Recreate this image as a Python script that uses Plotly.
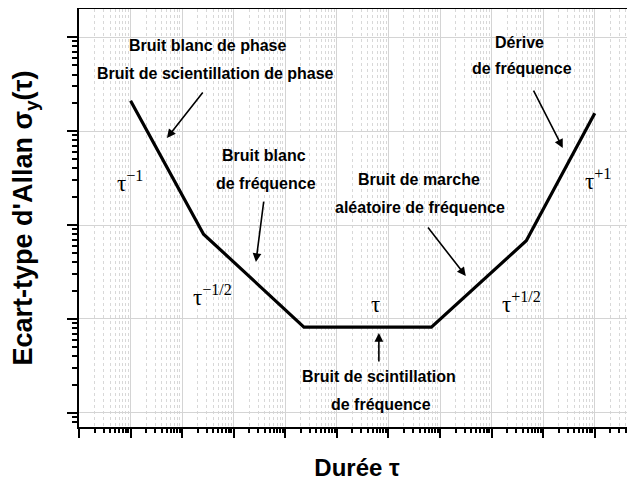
import plotly.graph_objects as go

# Data (log-log Allan deviation sketch)
tau = [1e1, 2.6e2, 2.3e4, 6.8e6, 4.7e8, 1.0e10]
sigma = [2.1e-12, 8.0e-14, 8.2e-15, 8.2e-15, 6.8e-14, 1.55e-12]

# Text labels (text, log10 x, log10 y)
label_text = ["Bruit blanc de phase", "Bruit de scientillation de phase",
              "Bruit blanc", "de fréquence",
              "Bruit de marche", "aléatoire de fréquence",
              "Dérive", "de fréquence",
              "Bruit de scintillation", "de fréquence"]
label_x = [2.50, 2.64, 3.585, 3.62, 6.59, 6.61, 8.55, 8.585, 5.81, 5.85]
label_y = [-11.085, -11.39, -12.255, -12.553, -12.51, -12.81, -11.053, -11.33, -14.617, -14.915]

# Arrows: head (log10 x, log10 y), tail offset in px
arrow_x = [1.705, 3.43, 7.50, 9.38, 5.814]
arrow_y = [-12.074, -13.394, -13.543, -12.18, -14.149]
arrow_ax = [37, 8, -39, -30, 0]
arrow_ay = [-47, -62, -50, -59, 30]

# Slope labels
slope_text = ["τ<sup>−1</sup>", "τ<sup>−1/2</sup>", "τ", "τ<sup>+1/2</sup>", "τ<sup>+1</sup>"]
slope_x = [0.988, 2.58, 5.756, 8.585, 10.06]
slope_y = [-12.54, -13.745, -13.85, -13.82, -12.52]

fig = go.Figure()
fig.add_trace(go.Scatter(x=tau, y=sigma, mode="lines",
                         line=dict(color="black", width=3.2),
                         hoverinfo="skip", showlegend=False))

bold = dict(family="Liberation Sans, Arial, sans-serif", size=16, color="black")
for t, x, y in zip(label_text, label_x, label_y):
    fig.add_annotation(x=x, y=y, xref="x", yref="y", text="<b>" + t + "</b>",
                       showarrow=False, font=bold, xanchor="center", yanchor="middle")

for x, y, ax, ay in zip(arrow_x, arrow_y, arrow_ax, arrow_ay):
    fig.add_annotation(x=x, y=y, xref="x", yref="y", text="", showarrow=True,
                       ax=ax, ay=ay, arrowhead=2, arrowsize=1.1, arrowwidth=1.6,
                       arrowcolor="black", standoff=0)

serif = dict(family="Liberation Serif, Times New Roman, serif", size=23, color="black")
for t, x, y in zip(slope_text, slope_x, slope_y):
    fig.add_annotation(x=x, y=y, xref="x", yref="y", text=t, showarrow=False,
                       font=serif, xanchor="center", yanchor="middle")

axis_common = dict(
    type="log", dtick=1, showticklabels=False, automargin=False,
    ticks="outside", tickcolor="black", tickwidth=2,
    showline=True, linecolor="black", linewidth=2,
    showgrid=True, gridcolor="#d4d4d4", gridwidth=1, zeroline=False,
)

fig.update_xaxes(
    **axis_common, ticklen=9, range=[0, 10.78], mirror=True,
    minor=dict(dtick="D1", ticks="outside", ticklen=4, tickcolor="black", tickwidth=1.5,
               showgrid=True, gridcolor="#d8d8d8", griddash="dot", gridwidth=1),
    title=dict(text="<b>Durée τ</b>", standoff=24,
               font=dict(family="Liberation Sans, Arial, sans-serif", size=24, color="black")),
)
fig.update_yaxes(
    **axis_common, ticklen=10, range=[-15.15, -10.70],
    minor=dict(dtick="D1", ticks="outside", ticklen=5, tickcolor="black", tickwidth=1.5,
               showgrid=False),
    title=dict(text="<b>Ecart-type d'Allan σ<sub>y</sub>(τ)</b>", standoff=27,
               font=dict(family="Liberation Sans, Arial, sans-serif", size=27, color="black")),
)

# The page body adds an 8 px offset, so the figure is sized to the visible area.
fig.update_layout(
    width=627, height=473,
    margin=dict(l=71, r=0, t=1, b=54),
    plot_bgcolor="white", paper_bgcolor="white",
)

fig.write_html("out.html")
